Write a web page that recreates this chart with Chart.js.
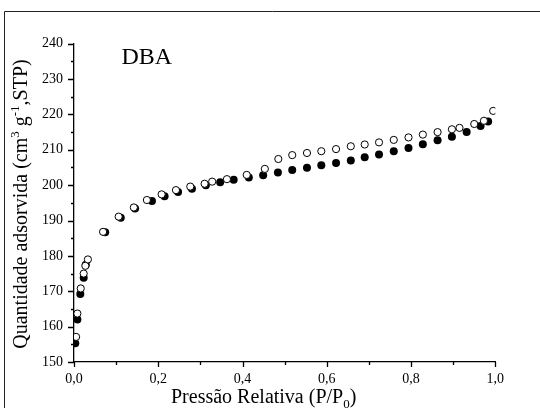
<!DOCTYPE html>
<html>
<head>
<meta charset="utf-8">
<script src="https://cdn.jsdelivr.net/npm/chart.js@4.4.0/dist/chart.umd.min.js"></script>
<style>
  html, body { margin: 0; padding: 0; background: #fff; }
  #wrap { width: 540px; height: 408px; }
</style>
</head>
<body>
<div id="wrap"><canvas id="iso" width="540" height="408"></canvas></div>
<script>
/* adsorption (filled) */
const adsP = [0.003, 0.008, 0.015, 0.023, 0.028, 0.074, 0.111, 0.145, 0.185, 0.215, 0.247, 0.28, 0.313, 0.347, 0.379, 0.415, 0.449, 0.484, 0.518, 0.553, 0.587, 0.622, 0.657, 0.69, 0.724, 0.759, 0.794, 0.828, 0.863, 0.897, 0.932, 0.965, 0.983];
const adsV = [155.3, 162.0, 169.2, 173.8, 177.5, 186.7, 190.8, 193.4, 195.5, 196.9, 198.1, 199.0, 200.0, 200.8, 201.5, 202.2, 202.8, 203.6, 204.3, 204.9, 205.6, 206.3, 207.0, 207.9, 208.7, 209.6, 210.5, 211.6, 212.7, 213.7, 215.0, 216.7, 218.0];

/* desorption (open) */
const desP = [0.005, 0.008, 0.016, 0.023, 0.027, 0.033, 0.069, 0.106, 0.142, 0.173, 0.208, 0.242, 0.276, 0.31, 0.328, 0.363, 0.41, 0.453, 0.485, 0.518, 0.553, 0.587, 0.622, 0.657, 0.69, 0.724, 0.759, 0.794, 0.828, 0.863, 0.897, 0.915, 0.95, 0.973, 0.995];
const desV = [157.1, 163.7, 170.8, 175.0, 177.2, 179.0, 186.8, 191.1, 193.7, 195.8, 197.4, 198.6, 199.6, 200.4, 201.0, 201.7, 202.9, 204.6, 207.4, 208.5, 209.1, 209.6, 210.2, 211.0, 211.5, 212.1, 212.8, 213.5, 214.3, 215.0, 215.8, 216.2, 217.3, 218.2, 221.0];

const xMin = 0, xMax = 1.0, xStep = 0.1;
const yMin = 150, yMax = 240, yStep = 5;

const serif = "'Liberation Serif', 'Times New Roman', serif";

const pts = (xs, ys) => xs.map((x, i) => ({ x: x, y: ys[i] }));

// frame, tick marks and the texts with super/subscripts
const decor = {
  id: "decor",
  beforeDraw(chart) {
    const ctx = chart.ctx;
    ctx.save();
    ctx.strokeStyle = "#222";
    ctx.lineWidth = 1;
    ctx.beginPath();
    ctx.moveTo(4.5, 408);
    ctx.lineTo(4.5, 11.5);
    ctx.lineTo(540, 11.5);
    ctx.stroke();
    ctx.restore();
  },
  afterDraw(chart) {
    const ctx = chart.ctx;
    const { x, y } = chart.scales;
    const a = chart.chartArea;
    ctx.save();
    ctx.strokeStyle = "#000";
    ctx.lineWidth = 1.3;
    ctx.beginPath();
    x.ticks.forEach(t => {
      const px = Math.round(x.getPixelForValue(t.value)) + 0.5;
      ctx.moveTo(px, a.bottom);
      ctx.lineTo(px, a.bottom + (t.label ? 5 : 3));
    });
    y.ticks.forEach(t => {
      const py = Math.round(y.getPixelForValue(t.value)) + 0.5;
      ctx.moveTo(a.left, py);
      ctx.lineTo(a.left - (t.label ? 6 : 3), py);
    });
    ctx.stroke();

    ctx.fillStyle = "#000";
    ctx.textBaseline = "alphabetic";
    ctx.textAlign = "left";

    ctx.font = "24px " + serif;
    ctx.fillText("DBA", 121.5, 63.5);

    // run of [text, size, shift]
    const run = (parts, x0, y0) => {
      let cx = x0;
      parts.forEach(p => {
        ctx.font = p[1] + "px " + serif;
        ctx.fillText(p[0], cx, y0 + p[2]);
        cx += ctx.measureText(p[0]).width;
      });
    };
    const runWidth = parts => parts.reduce((w, p) => {
      ctx.font = p[1] + "px " + serif;
      return w + ctx.measureText(p[0]).width;
    }, 0);

    const xt = [["Pressão Relativa (P/P", 20, 0], ["0", 13, 5], [")", 20, 0]];
    run(xt, 171, 403);

    const yt = [["Quantidade adsorvida (cm", 20, 0], ["3", 13, -8], [" g", 20, 0], ["-1", 13, -8], [",STP)", 20, 0]];
    ctx.translate(27, 204);
    ctx.rotate(-Math.PI / 2);
    run(yt, -runWidth(yt) / 2, 0);
    ctx.restore();
  }
};

new Chart(document.getElementById("iso"), {
  type: "scatter",
  data: {
    datasets: [
      {
        label: "Dessorção",
        data: pts(desP, desV),
        order: 0,
        pointRadius: 3.6,
        pointBorderWidth: 1,
        pointBackgroundColor: "#fff",
        pointBorderColor: "#000"
      },
      {
        label: "Adsorção",
        data: pts(adsP, adsV),
        order: 1,
        pointRadius: 4,
        pointBorderWidth: 0,
        pointBackgroundColor: "#000",
        pointBorderColor: "#000"
      }
    ]
  },
  options: {
    responsive: false,
    animation: false,
    events: [],
    layout: { padding: { left: 0, top: 43.7, right: 44.7, bottom: 0 } },
    plugins: { legend: { display: false }, tooltip: { enabled: false } },
    scales: {
      x: {
        type: "linear",
        min: xMin,
        max: xMax,
        afterFit: s => { s.height = 46; },
        grid: { display: false, drawTicks: false },
        border: { display: true, color: "#000", width: 1.3 },
        ticks: {
          stepSize: xStep,
          autoSkip: false,
          maxRotation: 0,
          padding: 9,
          color: "#000",
          font: { family: serif, size: 14 },
          callback: (v, i) => i % 2 === 0 ? v.toFixed(1).replace(".", ",") : ""
        }
      },
      y: {
        type: "linear",
        min: yMin,
        max: yMax,
        afterFit: s => { s.width = 74; },
        grid: { display: false, drawTicks: false },
        border: { display: true, color: "#000", width: 1.3 },
        ticks: {
          stepSize: yStep,
          autoSkip: false,
          padding: 11,
          color: "#000",
          font: { family: serif, size: 14 },
          callback: v => v % 10 === 0 ? String(v) : ""
        }
      }
    }
  },
  plugins: [decor]
});
</script>
</body>
</html>
